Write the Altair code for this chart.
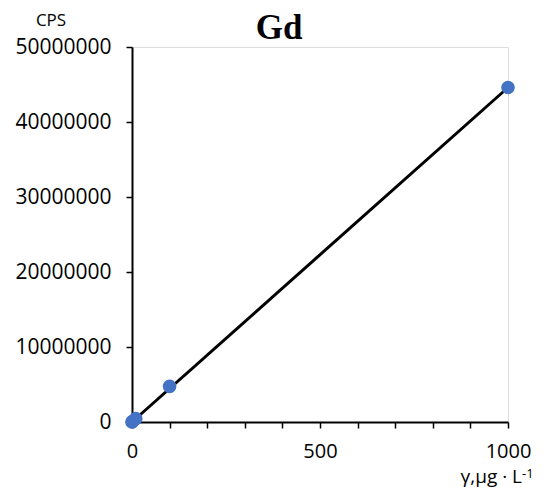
import altair as alt
import pandas as pd

conc = [0, 1, 10, 100, 1000]
cps = [0, 45000, 450000, 4750000, 44600000]
fit_x = [0, 1000]
fit_y = [0, 44600000]

pts = pd.DataFrame({"x": conc, "y": cps})
fit = pd.DataFrame({"x": fit_x, "y": fit_y})

FONT = "Open Sans"

xscale = alt.Scale(domain=[0, 1000], nice=False, zero=False)
yscale = alt.Scale(domain=[0, 50000000], nice=False)

xaxis = alt.Axis(
    values=list(range(0, 1001, 100)),
    labelExpr="datum.value % 500 == 0 ? datum.label : ''",
    format="d", title=None, grid=False, domainColor="black", domainWidth=2,
    tickColor="black", tickSize=6, tickWidth=1.5, labelFont=FONT, labelFontSize=20,
    labelColor="black", labelPadding=13, labelFlush=False, labelOverlap=False,
)
yaxis = alt.Axis(
    values=list(range(0, 50000001, 10000000)), format="d", title=None, grid=False,
    domainColor="black", domainWidth=2, tickColor="black", tickSize=6, tickWidth=1.5,
    labelFont=FONT, labelFontSize=21, labelColor="black", labelPadding=15,
)

X = alt.X("x:Q", scale=xscale, axis=xaxis)
Y = alt.Y("y:Q", scale=yscale, axis=yaxis)

line = alt.Chart(fit).mark_line(color="black", strokeWidth=3).encode(x=X, y=Y)
points = alt.Chart(pts).mark_circle(size=185, color="#4472C4", opacity=1).encode(x=X, y=Y)

txt = pd.DataFrame({"t": ["x"]})
title = alt.Chart(txt).mark_text(
    text="Gd", font="Liberation Serif", fontWeight="bold", fontSize=35, color="black",
    baseline="middle"
).encode(x=alt.value(147), y=alt.value(-19))
cps_label = alt.Chart(txt).mark_text(
    text="CPS", font=FONT, fontSize=17, color="black", baseline="middle"
).encode(x=alt.value(-81), y=alt.value(-26))
unit_label = alt.Chart(txt).mark_text(
    text="γ,μg · L", font=FONT, fontSize=19, color="black", align="right",
    baseline="alphabetic"
).encode(x=alt.value(390), y=alt.value(436))
sup_label = alt.Chart(txt).mark_text(
    text="-1", font=FONT, fontSize=13, color="black", align="left",
    baseline="alphabetic"
).encode(x=alt.value(390), y=alt.value(431))

chart = alt.layer(line, points, title, cps_label, unit_label, sup_label).properties(
    width=376, height=375,
    autosize=alt.AutoSizeParams(type="none"),
    padding={"left": 124, "top": 39, "right": 27, "bottom": 66},
).configure_view(stroke=None).configure(background="white")

chart.save("out.html", embed_options={"renderer": "svg", "actions": False})
